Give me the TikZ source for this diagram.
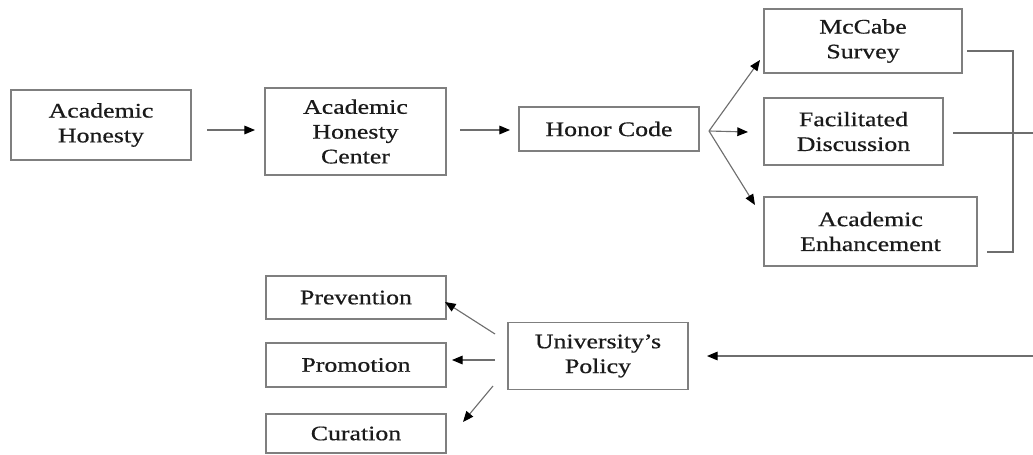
\documentclass[tikz,border=0pt]{standalone}
\usepackage{fontspec}
\setmainfont{Liberation Serif}[FakeStretch=1.25,FakeBold=0.6]
\usetikzlibrary{arrows.meta}
\definecolor{boxgray}{HTML}{7F7F7F}
\definecolor{linegray}{HTML}{6E6E6E}
\definecolor{txt}{HTML}{1A1A1A}
\tikzset{
  bx/.style={draw=boxgray, line width=0.9pt, rectangle, align=center, inner sep=0pt,
    font=\fontsize{15.5}{18.6}\selectfont, text=txt},
  arr/.style={draw=linegray, line width=0.85pt, -{Triangle[length=8pt,width=6.5pt,fill=black,color=black]}},
  ln/.style={draw=linegray, line width=0.85pt}
}
\begin{document}
\begin{tikzpicture}[x=0.75pt,y=-0.75pt]
\useasboundingbox (0,0) rectangle (1033,454);
% top row
\node[bx, minimum width=135pt, minimum height=52.5pt] (AH) at (101,125) {Academic\\Honesty};
\node[bx, minimum width=135.75pt, minimum height=65.25pt] (AHC) at (355.5,131.5) {Academic\\Honesty\\Center};
\node[bx, minimum width=135pt, minimum height=33pt] (HC) at (609,129) {Honor Code};
\node[bx, minimum width=148.5pt, minimum height=48pt] (MC) at (863,41) {McCabe\\Survey};
\node[bx, minimum width=134.25pt, minimum height=50.25pt] (FD) at (853.5,131.5) {Facilitated\\Discussion};
\node[bx, minimum width=159.75pt, minimum height=51.75pt] (AE) at (870.5,231.5) {Academic\\Enhancement};
% bottom row
\node[bx, minimum width=135pt, minimum height=50.25pt] (UP) at (598,356) {University’s\\Policy};
\node[bx, minimum width=135pt, minimum height=32.25pt] (PV) at (356,297.5) {Prevention};
\node[bx, minimum width=135pt, minimum height=33pt] (PM) at (356,365) {Promotion};
\node[bx, minimum width=135pt, minimum height=29.25pt] (CU) at (356,433.5) {Curation};
% connector end points
\coordinate (a1s) at (207,130); \coordinate (a1e) at (255,130);
\coordinate (a2s) at (460,130); \coordinate (a2e) at (510,130);
\coordinate (F) at (709,131);
\coordinate (fMC) at (760,60); \coordinate (fFD) at (748,132); \coordinate (fAE) at (755,205);
\coordinate (bMC) at (967,51); \coordinate (bR1) at (1013,51); \coordinate (bR2) at (1013,252); \coordinate (bAE) at (987,252);
\coordinate (bFD) at (953,133); \coordinate (bE) at (1033,133);
\coordinate (lS) at (1033,356); \coordinate (lE) at (707,356);
\coordinate (pS) at (495,334); \coordinate (pE) at (445,302);
\coordinate (mS) at (495,360); \coordinate (mE) at (452,360);
\coordinate (cS) at (493,386); \coordinate (cE) at (463,422);
% connectors
\draw[arr] (a1s) -- (a1e);
\draw[arr] (a2s) -- (a2e);
\draw[arr] (F) -- (fMC);
\draw[arr] (F) -- (fFD);
\draw[arr] (F) -- (fAE);
\draw[ln] (bMC) -- (bR1) -- (bR2) -- (bAE);
\draw[ln] (bFD) -- (bE);
\draw[arr] (lS) -- (lE);
\draw[arr] (pS) -- (pE);
\draw[arr] (mS) -- (mE);
\draw[arr] (cS) -- (cE);
\end{tikzpicture}
\end{document}
